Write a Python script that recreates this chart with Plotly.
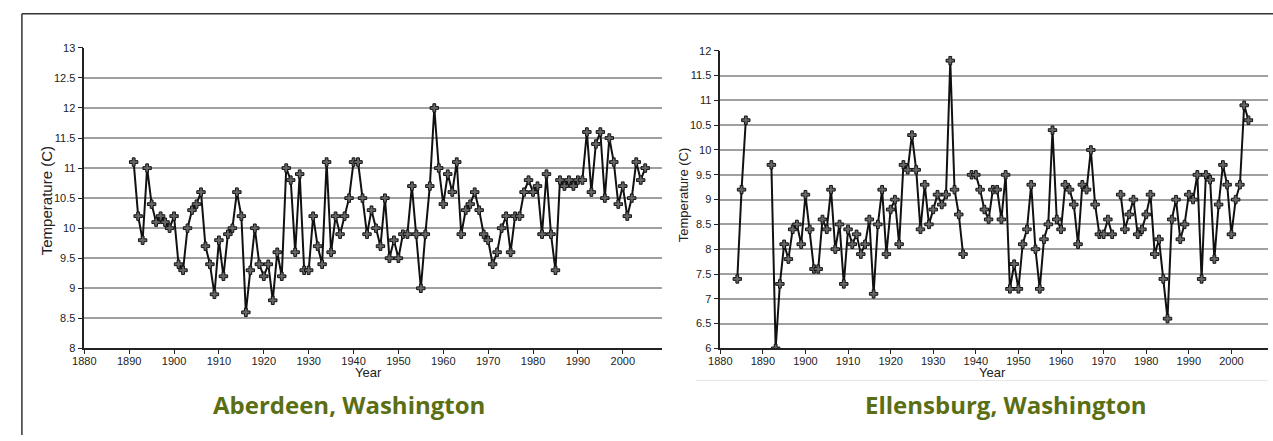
import plotly.graph_objects as go

# ---- Aberdeen, Washington ----
aberdeen_years = list(range(1891, 2006))
aberdeen_temps = [
    11.1, 10.2, 9.8, 11.0, 10.4, 10.1, 10.2, 10.1, 10.0, 10.2,   # 1891-1900
    9.4, 9.3, 10.0, 10.3, 10.4, 10.6, 9.7, 9.4, 8.9, 9.8,        # 1901-1910
    9.2, 9.9, 10.0, 10.6, 10.2, 8.6, 9.3, 10.0, 9.4, 9.2,        # 1911-1920
    9.4, 8.8, 9.6, 9.2, 11.0, 10.8, 9.6, 10.9, 9.3, 9.3,         # 1921-1930
    10.2, 9.7, 9.4, 11.1, 9.6, 10.2, 9.9, 10.2, 10.5, 11.1,      # 1931-1940
    11.1, 10.5, 9.9, 10.3, 10.0, 9.7, 10.5, 9.5, 9.8, 9.5,       # 1941-1950
    9.9, 9.9, 10.7, 9.9, 9.0, 9.9, 10.7, 12.0, 11.0, 10.4,       # 1951-1960
    10.9, 10.6, 11.1, 9.9, 10.3, 10.4, 10.6, 10.3, 9.9, 9.8,     # 1961-1970
    9.4, 9.6, 10.0, 10.2, 9.6, 10.2, 10.2, 10.6, 10.8, 10.6,     # 1971-1980
    10.7, 9.9, 10.9, 9.9, 9.3, 10.8, 10.7, 10.8, 10.7, 10.8,     # 1981-1990
    10.8, 11.6, 10.6, 11.4, 11.6, 10.5, 11.5, 11.1, 10.4, 10.7,  # 1991-2000
    10.2, 10.5, 11.1, 10.8, 11.0,                                # 2001-2005
]

# ---- Ellensburg, Washington (None = missing year) ----
ellensburg_years = list(range(1884, 2005))
ellensburg_temps = [
    7.4, 9.2, 10.6, None, None, None, None, None, 9.7, 6.0,      # 1884-1893
    7.3, 8.1, 7.8, 8.4, 8.5, 8.1, 9.1, 8.4, 7.6, 7.6,            # 1894-1903
    8.6, 8.4, 9.2, 8.0, 8.5, 7.3, 8.4, 8.1, 8.3, 7.9,            # 1904-1913
    8.1, 8.6, 7.1, 8.5, 9.2, 7.9, 8.8, 9.0, 8.1, 9.7,            # 1914-1923
    9.6, 10.3, 9.6, 8.4, 9.3, 8.5, 8.8, 9.1, 8.9, 9.1,           # 1924-1933
    11.8, 9.2, 8.7, 7.9, None, 9.5, 9.5, 9.2, 8.8, 8.6,          # 1934-1943
    9.2, 9.2, 8.6, 9.5, 7.2, 7.7, 7.2, 8.1, 8.4, 9.3,            # 1944-1953
    8.0, 7.2, 8.2, 8.5, 10.4, 8.6, 8.4, 9.3, 9.2, 8.9,           # 1954-1963
    8.1, 9.3, 9.2, 10.0, 8.9, 8.3, 8.3, 8.6, 8.3, None,          # 1964-1973
    9.1, 8.4, 8.7, 9.0, 8.3, 8.4, 8.7, 9.1, 7.9, 8.2,            # 1974-1983
    7.4, 6.6, 8.6, 9.0, 8.2, 8.5, 9.1, 9.0, 9.5, 7.4,            # 1984-1993
    9.5, 9.4, 7.8, 8.9, 9.7, 9.3, 8.3, 9.0, 9.3, 10.9,           # 1994-2003
    10.6,                                                        # 2004
]

x_tick_vals = [1880, 1890, 1900, 1910, 1920, 1930, 1940, 1950, 1960, 1970, 1980, 1990, 2000]
left_y_ticks = [8, 8.5, 9, 9.5, 10, 10.5, 11, 11.5, 12, 12.5, 13]
right_y_ticks = [6, 6.5, 7, 7.5, 8, 8.5, 9, 9.5, 10, 10.5, 11, 11.5, 12]

W, H = 1273, 441


def px(xp):
    return xp / W


def py(yp):
    return 1 - yp / H


fig = go.Figure()

marker = dict(symbol="cross", size=7, color="#666", line=dict(color="#111", width=1))
line = dict(color="#111", width=2)

fig.add_trace(go.Scatter(x=aberdeen_years, y=aberdeen_temps, mode="lines+markers",
                         line=line, marker=marker, xaxis="x", yaxis="y",
                         showlegend=False, hoverinfo="skip"))
fig.add_trace(go.Scatter(x=ellensburg_years, y=ellensburg_temps, mode="lines+markers",
                         line=line, marker=marker, xaxis="x2", yaxis="y2",
                         showlegend=False, connectgaps=False, hoverinfo="skip"))

tickfont = dict(family="Liberation Sans, Arial, sans-serif", size=11, color="#222")
common_x = dict(tickmode="array", tickvals=x_tick_vals, showgrid=False, zeroline=False,
                showline=True, linecolor="#222", linewidth=2, ticks="outside",
                ticklen=4, tickcolor="#222", tickfont=tickfont, ticklabelstandoff=-3)
common_y = dict(tickmode="array", showgrid=True, gridcolor="#a0a0a0", gridwidth=1.5,
                zeroline=False, showline=True, linecolor="#222", linewidth=1.5,
                ticks="outside", ticklen=5, tickcolor="#222", tickfont=tickfont)

fig.update_layout(
    width=W, height=H,
    margin=dict(l=0, r=0, t=0, b=0),
    paper_bgcolor="white", plot_bgcolor="white",
    xaxis=dict(common_x, domain=[px(73), px(656)], range=[1880, 2008.7], anchor="y"),
    yaxis=dict(common_y, domain=[py(352), py(43)], range=[8, 13],
               tickvals=left_y_ticks, anchor="x"),
    xaxis2=dict(common_x, domain=[px(715), px(1268)], range=[1880, 2008.6], anchor="y2"),
    yaxis2=dict(common_y, domain=[py(352), py(46)], range=[6, 12],
                tickvals=right_y_ticks, anchor="x2"),
)

label_font = dict(family="Liberation Sans, Arial, sans-serif", size=13, color="#222")
title_font = dict(family="Open Sans, sans-serif", size=24, color="#5a6e14")

annotations = [
    dict(text="Temperature (C)", x=px(35), y=py(200), textangle=-90,
         font=dict(label_font, size=15)),
    dict(text="Temperature (C)", x=px(678), y=py(194), textangle=-90, font=label_font),
    dict(text="Year", x=px(360), y=py(377), font=label_font),
    dict(text="Year", x=px(990), y=py(377), font=label_font),
    dict(text="<b>Aberdeen, Washington</b>", x=px(340), y=py(410), font=title_font),
    dict(text="<b>Ellensburg, Washington</b>", x=px(1003), y=py(410), font=title_font),
]
for a in annotations:
    a.update(xref="paper", yref="paper", showarrow=False, xanchor="center", yanchor="middle")
fig.update_layout(annotations=annotations)

fig.update_layout(shapes=[
    dict(type="line", xref="paper", yref="paper", x0=px(10), x1=1, y0=py(8), y1=py(8),
         line=dict(color="#333", width=1.5)),
    dict(type="line", xref="paper", yref="paper", x0=px(10), x1=px(10), y0=py(8), y1=0,
         line=dict(color="#333", width=1.5)),
    dict(type="line", xref="paper", yref="paper", x0=px(690), x1=px(1268), y0=py(385), y1=py(385),
         line=dict(color="#e6e6e6", width=1)),
])

fig.write_html(
    "out.html",
    config={"displayModeBar": False},
    post_script="document.body.style.margin='0';document.body.style.overflow='hidden';",
)
